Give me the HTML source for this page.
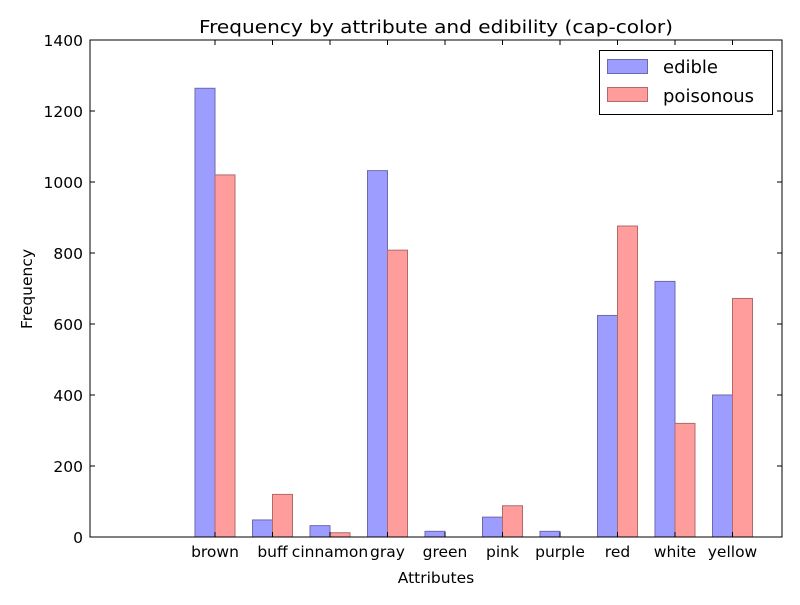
<!DOCTYPE html>
<html><head><meta charset="utf-8"><style>
body{margin:0;background:#fff;}
svg text{font-family:"DejaVu Sans","Liberation Sans",sans-serif;}
</style></head><body>
<svg id="chart" width="800" height="600" viewBox="0 0 800 600">
<rect width="800" height="600" fill="#fff"/>
<g id="marks"></g>
<rect x="90" y="40" width="692" height="497" fill="none" stroke="#000" stroke-width="1"/>
<g id="axes"></g>
<text x="436" y="33" font-size="18" text-anchor="middle" textLength="474" lengthAdjust="spacingAndGlyphs">Frequency by attribute and edibility (cap-color)</text>
<text x="436" y="583" font-size="15.5" text-anchor="middle">Attributes</text>
<text transform="translate(32,289) rotate(-90)" font-size="15.5" text-anchor="middle">Frequency</text>
<g>
<rect x="599.5" y="50.5" width="173" height="64" fill="#fff" stroke="#000"/>
<rect x="607.5" y="59.5" width="40" height="14" fill="#9d9dff" stroke="#6a6ab0"/>
<text x="663" y="73" font-size="18">edible</text>
<rect x="607.5" y="87.5" width="40" height="14" fill="#ff9d9d" stroke="#b06a6a"/>
<text x="663" y="102" font-size="18">poisonous</text>
</g>
</svg>
<script>
const categories = ["brown","buff","cinnamon","gray","green","pink","purple","red","white","yellow"];
const edible = [1264,48,32,1032,16,56,16,624,720,400];
const poisonous = [1020,120,12,808,0,88,0,876,320,672];
const yTicks = [0,200,400,600,800,1000,1200,1400];
const NS="http://www.w3.org/2000/svg";
const y0=537, y1=40, yMax=1400;
const y = v => y0 - (v/yMax)*(y0-y1);
const xc = i => 215 + i*57.5;
const bw = 20;
const marks=document.getElementById('marks'), axes=document.getElementById('axes');
function mk(tag, attrs, parent){const e=document.createElementNS(NS,tag);for(const k in attrs)e.setAttribute(k,attrs[k]);parent.appendChild(e);return e;}
categories.forEach((c,i)=>{
  const a=mk('rect',{x:xc(i)-bw,y:y(edible[i]),width:bw,height:y0-y(edible[i]),fill:'#9d9dff',stroke:'#6a6ab0','stroke-width':1},marks);
  
  
  const b=mk('rect',{x:xc(i),y:y(poisonous[i]),width:bw,height:y0-y(poisonous[i]),fill:'#ff9d9d',stroke:'#b06a6a','stroke-width':1},marks);
  
  
  mk('line',{x1:xc(i),x2:xc(i),y1:y0,y2:y0-5,stroke:'#000'},axes);
  mk('line',{x1:xc(i),x2:xc(i),y1:y1,y2:y1+5,stroke:'#000'},axes);
  const t=mk('text',{x:xc(i),y:557,'font-size':15.5,'text-anchor':'middle'},axes);
  t.textContent=c;
  
  
});
yTicks.forEach(v=>{
  mk('line',{x1:90,x2:95,y1:y(v),y2:y(v),stroke:'#000'},axes);
  mk('line',{x1:782,x2:777,y1:y(v),y2:y(v),stroke:'#000'},axes);
  const t=mk('text',{x:83,y:y(v)+6,'font-size':15.5,'text-anchor':'end'},axes);
  t.textContent=v;
  
  
});
</script>
</body></html>
